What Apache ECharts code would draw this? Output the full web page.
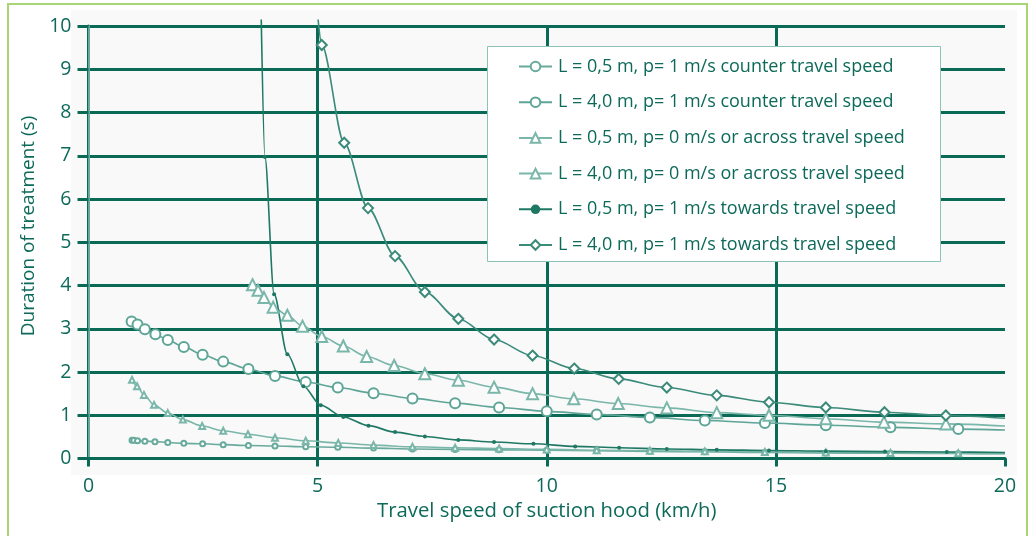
<!DOCTYPE html>
<html>
<head>
<meta charset="utf-8">
<script src="https://cdn.jsdelivr.net/npm/echarts@6/dist/echarts.min.js"></script>
<style>
    html, body { margin: 0; padding: 0; background: #fff; }
    #chart { width: 1033px; height: 536px; }
</style>
</head>
<body>
<div id="chart"></div>
<script>
    // values: travel speed (km/h) -> duration of treatment (s)
    const names = [
        'L = 0,5 m, p= 1 m/s counter travel speed',
        'L = 4,0 m, p= 1 m/s counter travel speed',
        'L = 0,5 m, p= 0 m/s or across travel speed',
        'L = 4,0 m, p= 0 m/s or across travel speed',
        'L = 0,5 m, p= 1 m/s towards travel speed',
        'L = 4,0 m, p= 1 m/s towards travel speed'
    ];

    const xTicks = [0, 5, 10, 15, 20];
    const yTicks = [0, 1, 2, 3, 4, 5, 6, 7, 8, 9, 10];

    // L = 0,5 m counter
    const cnt05X = [0.95, 0.99, 1.07, 1.23, 1.45, 1.73, 2.08, 2.49, 2.94, 3.49, 4.07, 4.74, 5.44, 6.22, 7.07, 8.0, 8.96, 10.0, 11.09, 12.25, 13.45, 14.76, 16.09, 17.5, 18.98];
    const cnt05Y = [0.42, 0.42, 0.41, 0.40, 0.39, 0.37, 0.35, 0.34, 0.32, 0.30, 0.29, 0.27, 0.26, 0.24, 0.22, 0.21, 0.20, 0.19, 0.18, 0.165, 0.155, 0.14, 0.13, 0.12, 0.115];
    const cnt05End = [[20, 0.11]];

    // L = 4,0 m counter
    const cnt40X = [0.94, 1.07, 1.23, 1.46, 1.73, 2.08, 2.49, 2.94, 3.49, 4.07, 4.74, 5.44, 6.22, 7.07, 8.0, 8.96, 10.0, 11.09, 12.25, 13.45, 14.76, 16.09, 17.5, 18.98];
    const cnt40Y = [3.17, 3.10, 2.99, 2.87, 2.74, 2.58, 2.40, 2.24, 2.07, 1.91, 1.77, 1.64, 1.51, 1.39, 1.28, 1.18, 1.09, 1.02, 0.95, 0.88, 0.82, 0.77, 0.72, 0.68];
    const cnt40End = [[20, 0.66]];

    // L = 0,5 m across
    const acr05X = [0.95, 1.06, 1.21, 1.43, 1.73, 2.06, 2.48, 2.94, 3.48, 4.07, 4.74, 5.45, 6.22, 7.07, 8.0, 8.96, 10.0, 11.09, 12.25, 13.45, 14.76, 16.09, 17.5, 18.98];
    const acr05Y = [1.82, 1.67, 1.47, 1.24, 1.05, 0.90, 0.75, 0.64, 0.56, 0.48, 0.41, 0.36, 0.31, 0.27, 0.25, 0.23, 0.21, 0.19, 0.18, 0.165, 0.15, 0.14, 0.13, 0.12];
    const acr05End = [[20, 0.115]];

    // L = 4,0 m across
    const acr40X = [3.58, 3.70, 3.83, 4.03, 4.34, 4.67, 5.09, 5.56, 6.07, 6.67, 7.34, 8.07, 8.85, 9.69, 10.59, 11.56, 12.62, 13.71, 14.85, 16.09, 17.36, 18.71];
    const acr40Y = [4.02, 3.89, 3.72, 3.50, 3.31, 3.06, 2.82, 2.60, 2.36, 2.15, 1.96, 1.81, 1.65, 1.50, 1.38, 1.27, 1.17, 1.06, 1.00, 0.92, 0.84, 0.80];
    const acr40End = [[20, 0.75]];

    // L = 0,5 m towards
    const tow05Start = [[3.77, 10.15]];
    const tow05X = [3.85, 4.05, 4.34, 4.69, 5.07, 5.56, 6.11, 6.69, 7.34, 8.07, 8.85, 9.71, 10.62, 11.58, 12.62, 13.71, 14.85, 16.09, 17.38, 18.73];
    const tow05Y = [6.97, 3.80, 2.41, 1.67, 1.23, 0.96, 0.76, 0.61, 0.51, 0.43, 0.38, 0.34, 0.28, 0.25, 0.22, 0.20, 0.185, 0.17, 0.16, 0.15];
    const tow05End = [[20, 0.14]];

    // L = 4,0 m towards
    const tow40Start = [[5.01, 10.15]];
    const tow40X = [5.09, 5.58, 6.10, 6.69, 7.34, 8.07, 8.85, 9.69, 10.6, 11.57, 12.62, 13.71, 14.85, 16.09, 17.37, 18.71];
    const tow40Y = [9.56, 7.30, 5.79, 4.68, 3.85, 3.23, 2.75, 2.38, 2.08, 1.84, 1.64, 1.46, 1.30, 1.18, 1.07, 0.995];
    const tow40End = [[20, 0.93]];

    const textColor = '#0d6a5a';
    const gridColor = '#0a6a56';
    const font = 'Open Sans';

    // points with a marker, plus line-only points at the ends of the curve
    function buildData(start, xs, ys, end) {
        let data = [];
        start.forEach(p => data.push({ value: p, symbol: 'none' }));
        xs.forEach((x, i) => data.push([x, ys[i]]));
        end.forEach(p => data.push({ value: p, symbol: 'none' }));
        return data;
    }

    function curve(name, data, color, symbol, size, border) {
        return {
            name: name,
            type: 'line',
            data: data,
            smooth: 0.3,
            smoothMonotone: 'x',
            clip: false,
            symbol: symbol,
            symbolSize: size,
            showAllSymbol: true,
            color: color,
            lineStyle: { color: color, width: 1.6 },
            itemStyle: { color: color, borderColor: color, borderWidth: border },
            emphasis: { disabled: true },
            z: 2
        };
    }

    let chart = echarts.init(document.getElementById('chart'));
    chart.setOption({
        animation: false,
        textStyle: { fontFamily: font },
        grid: { left: 88.5, right: 28, top: 26, bottom: 77.5 },
        graphic: [
            {
                type: 'rect', z: -10, silent: true,
                shape: { x: 71, y: 10, width: 946, height: 465 },
                style: { fill: '#f8f9f8' }
            },
            {
                type: 'rect', z: -9, silent: true,
                shape: { x: 8, y: 4, width: 1019, height: 545 },
                style: { fill: 'none', stroke: '#aad574', lineWidth: 2 }
            },
            {
                type: 'rect', z: 3, silent: true,
                shape: { x: 487.5, y: 46.5, width: 453, height: 215 },
                style: { fill: '#ffffff', stroke: '#8cc3b6', lineWidth: 1 }
            },
            {
                type: 'text', z: 5, silent: true,
                x: 29, y: 226, rotation: Math.PI / 2,
                style: {
                    text: 'Duration of treatment (s)',
                    fill: textColor,
                    font: '19px "' + font + '"',
                    align: 'center',
                    verticalAlign: 'middle'
                }
            }
        ],
        legend: {
            orient: 'vertical',
            left: 518,
            top: 57.5,
            padding: 0,
            z: 4,
            selectedMode: false,
            itemWidth: 33,
            itemHeight: 12,
            itemGap: 17.7,
            data: names,
            textStyle: { color: textColor, fontSize: 18, fontFamily: font, padding: [0, 0, 0, 1] }
        },
        xAxis: {
            type: 'value',
            min: xTicks[0],
            max: xTicks[xTicks.length - 1],
            interval: xTicks[1] - xTicks[0],
            name: 'Travel speed of suction hood (km/h)',
            nameLocation: 'middle',
            nameGap: 41,
            nameTextStyle: { color: textColor, fontSize: 20.3, fontFamily: font },
            axisLine: { show: true, onZero: false, lineStyle: { color: gridColor, width: 3 } },
            axisTick: { show: true, length: 8, lineStyle: { color: gridColor, width: 3 } },
            axisLabel: { color: textColor, fontSize: 19.5, margin: 18 },
            splitLine: { show: true, showMinLine: false, showMaxLine: false, lineStyle: { color: gridColor, width: 3 } }
        },
        yAxis: [
            {
                type: 'value',
                min: yTicks[0],
                max: yTicks[yTicks.length - 1],
                interval: yTicks[1] - yTicks[0],
                axisLine: { show: true, onZero: false, lineStyle: { color: gridColor, width: 3 } },
                axisTick: { show: true, length: 11, lineStyle: { color: gridColor, width: 3 } },
                axisLabel: { color: textColor, fontSize: 19.5, margin: 17 },
                splitLine: { show: true, showMinLine: false, lineStyle: { color: gridColor, width: 3 } }
            },
            {
                type: 'value',
                position: 'right',
                min: yTicks[0],
                max: yTicks[yTicks.length - 1],
                axisLine: { show: true, lineStyle: { color: '#86bfb2', width: 1.5 } },
                axisTick: { show: false },
                axisLabel: { show: false },
                splitLine: { show: false }
            }
        ],
        series: [
            curve(names[0], buildData([], cnt05X, cnt05Y, cnt05End), '#68aa9c', 'emptyCircle', 5, 1.2),
            curve(names[1], buildData([], cnt40X, cnt40Y, cnt40End), '#5ea597', 'emptyCircle', 10, 1.6),
            curve(names[2], buildData([], acr05X, acr05Y, acr05End), '#7ab6a9', 'emptyTriangle', 6, 1.2),
            curve(names[3], buildData([], acr40X, acr40Y, acr40End), '#7ab6a9', 'emptyTriangle', 11, 1.6),
            curve(names[4], buildData(tow05Start, tow05X, tow05Y, tow05End), '#1e7864', 'circle', 4, 0),
            curve(names[5], buildData(tow40Start, tow40X, tow40Y, tow40End), '#3b8a7a', 'emptyDiamond', 10, 1.6)
        ]
    });
</script>
</body>
</html>
